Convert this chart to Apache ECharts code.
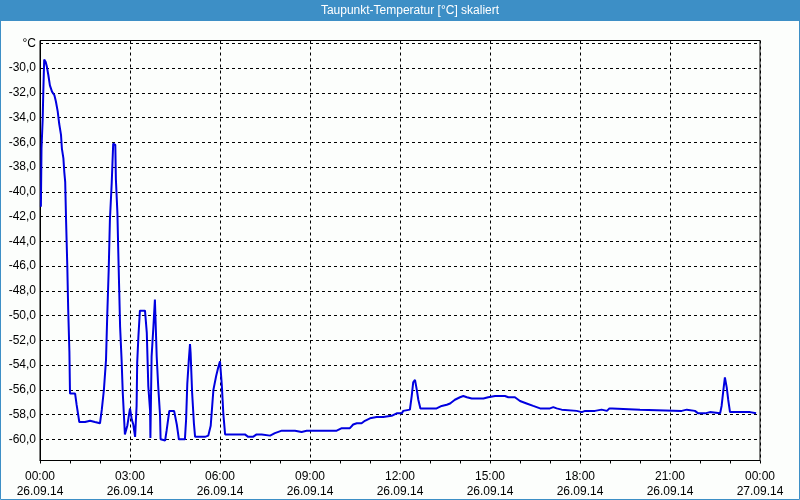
<!DOCTYPE html>
<html>
<head>
<meta charset="utf-8">
<script src="https://cdn.jsdelivr.net/npm/echarts@6/dist/echarts.min.js"></script>
<style>
html,body{margin:0;padding:0;background:#fcfefc;}
#chart{width:800px;height:500px;}
</style>
</head>
<body>
<div id="chart"></div>
<script>
// Hours since 26.09.14 00:00
var hours = [
0.03,0.05,0.09,0.11,0.14,0.19,0.23,0.28,0.33,0.40,0.48,0.53,0.59,0.64,0.70,0.73,0.78,0.81,0.84,0.87,
0.91,0.94,0.98,1.00,1.17,1.22,1.31,1.50,1.67,1.83,2.00,2.06,2.13,2.20,2.24,2.29,2.33,2.39,2.44,2.51,
2.53,2.58,2.61,2.64,2.67,2.72,2.76,2.83,2.91,3.00,3.06,3.11,3.17,3.22,3.24,3.28,3.33,3.50,3.56,3.61,
3.67,3.68,3.72,3.78,3.83,3.89,3.94,4.00,4.02,4.17,4.22,4.31,4.47,4.56,4.63,4.83,4.87,4.91,4.96,5.00,
5.02,5.07,5.13,5.17,5.50,5.61,5.69,5.74,5.78,5.87,5.94,6.00,6.06,6.11,6.17,6.83,6.94,7.10,7.22,7.39,
7.44,7.67,7.83,8.06,8.50,8.56,8.72,8.89,9.89,10.06,10.33,10.44,10.56,10.72,10.83,11.00,11.22,11.44,11.72,11.78,
11.89,12.06,12.11,12.33,12.39,12.44,12.50,12.56,12.61,12.68,13.22,13.39,13.56,13.67,13.83,14.00,14.11,14.23,14.39,14.78,
14.94,15.17,15.50,15.61,15.83,16.00,16.22,16.44,16.67,17.00,17.11,17.22,17.39,17.89,18.06,18.17,18.50,18.53,18.72,18.78,
18.90,18.98,19.07,19.11,20.00,20.06,21.39,21.44,21.56,21.61,21.83,21.94,22.17,22.22,22.33,22.37,22.67,22.72,22.78,22.83,
22.89,22.94,23.00,23.67,23.72,23.87
];
var dewPoint = [
-41.2,-36.5,-34.1,-31.9,-29.3,-29.5,-29.9,-30.6,-31.4,-31.9,-32.2,-32.7,-33.5,-34.5,-35.4,-36.5,-37.3,-38.4,-39.2,-42.4,
-46.0,-49.5,-52.9,-56.3,-56.3,-57.2,-58.6,-58.6,-58.5,-58.6,-58.7,-57.6,-56.0,-53.6,-50.1,-46.3,-42.3,-39.3,-36.1,-36.2,
-39.0,-41.7,-44.9,-47.9,-50.9,-53.6,-56.3,-59.6,-58.9,-57.5,-58.4,-58.8,-59.8,-57.3,-53.8,-51.7,-49.6,-49.6,-51.4,-55.7,
-57.7,-59.9,-53.3,-50.9,-48.7,-53.3,-55.7,-58.0,-60.0,-60.1,-59.3,-57.7,-57.7,-58.8,-60.0,-60.0,-58.4,-55.5,-53.6,-52.3,
-53.0,-56.2,-58.7,-59.8,-59.8,-59.7,-58.9,-57.3,-56.0,-54.9,-54.2,-53.7,-55.6,-57.9,-59.6,-59.6,-59.8,-59.8,-59.6,-59.6,
-59.7,-59.7,-59.5,-59.3,-59.3,-59.4,-59.4,-59.3,-59.3,-59.1,-59.1,-58.8,-58.7,-58.7,-58.5,-58.3,-58.2,-58.2,-58.1,-58.0,
-57.9,-57.9,-57.7,-57.6,-56.5,-55.4,-55.2,-56.0,-56.8,-57.5,-57.5,-57.3,-57.2,-57.1,-56.8,-56.6,-56.5,-56.6,-56.7,-56.7,
-56.6,-56.5,-56.5,-56.6,-56.6,-56.9,-57.1,-57.3,-57.5,-57.5,-57.4,-57.5,-57.6,-57.7,-57.8,-57.7,-57.7,-57.6,-57.6,-57.7,
-57.7,-57.5,-57.5,-57.6,-57.6,-57.7,-57.7,-57.6,-57.6,-57.7,-57.7,-57.9,-57.9,-57.8,-57.8,-57.9,-57.9,-57.3,-56.0,-55.0,
-55.8,-56.8,-57.8,-57.8,-57.9,-57.9
];
var timeLabels = ['00:00','03:00','06:00','09:00','12:00','15:00','18:00','21:00','00:00'];
var dateLabels = ['26.09.14','26.09.14','26.09.14','26.09.14','26.09.14','26.09.14','26.09.14','26.09.14','27.09.14'];
var titleText = 'Taupunkt-Temperatur [°C] skaliert';
var unitLabel = '°C';

var seriesData = hours.map(function (h, i) { return [h, dewPoint[i]]; });
var FONT = 'Liberation Sans';
var chart = echarts.init(document.getElementById('chart'), null, {renderer: 'canvas'});
chart.setOption({
  backgroundColor: '#fcfefc',
  animation: false,
  graphic: [
    {type: 'rect', shape: {x: 0.5, y: 0.5, width: 799, height: 499}, style: {fill: 'none', stroke: '#3d8fc6', lineWidth: 1}, z: 0},
    {type: 'rect', shape: {x: 0, y: 0, width: 800, height: 21}, style: {fill: '#3d8fc6'}, z: 1},
    {type: 'text', x: 410, y: 11, style: {text: titleText, fill: '#ffffff', font: '12px "Liberation Sans"', textAlign: 'center', textVerticalAlign: 'middle'}, z: 2}
  ],
  grid: {left: 40, right: 40, top: 40.5, bottom: 39.5, show: true, borderColor: '#000', borderWidth: 1, backgroundColor: 'transparent'},
  xAxis: {
    type: 'value', min: 0, max: 24, interval: 3,
    axisLine: {show: true, onZero: false, lineStyle: {color: '#000', width: 1}},
    axisTick: {show: true, length: 3, lineStyle: {color: '#000'}},
    minorTick: {show: true, splitNumber: 3, length: 3, lineStyle: {color: '#000'}},
    splitLine: {show: true, lineStyle: {color: '#000', type: [3, 3], width: 1}},
    axisLabel: {
      margin: 9, color: '#000', fontFamily: FONT, fontSize: 12, lineHeight: 15,
      formatter: function (v) { var i = Math.round(v / 3); return timeLabels[i] + '\n' + dateLabels[i]; }
    }
  },
  yAxis: {
    type: 'value', min: -61.71, max: -27.77, splitNumber: 17, minInterval: 2, maxInterval: 2,
    axisLine: {show: true, onZero: false, lineStyle: {color: '#000', width: 1}},
    axisTick: {show: false},
    splitLine: {show: true, lineStyle: {color: '#000', type: [3, 3], width: 1}},
    axisLabel: {
      margin: 4, color: '#000', fontFamily: FONT, fontSize: 12, showMinLabel: true, showMaxLabel: true,
      formatter: function (v) {
        if (Math.abs(v - Math.round(v / 2) * 2) > 0.01) return '';
        if (Math.round(v) === -28) return unitLabel;
        return v.toFixed(1).replace('.', ',');
      }
    }
  },
  series: [{
    type: 'line', data: seriesData, showSymbol: false, symbol: 'none',
    lineStyle: {color: '#0000e0', width: 2}, clip: true
  }]
});
</script>
</body>
</html>
